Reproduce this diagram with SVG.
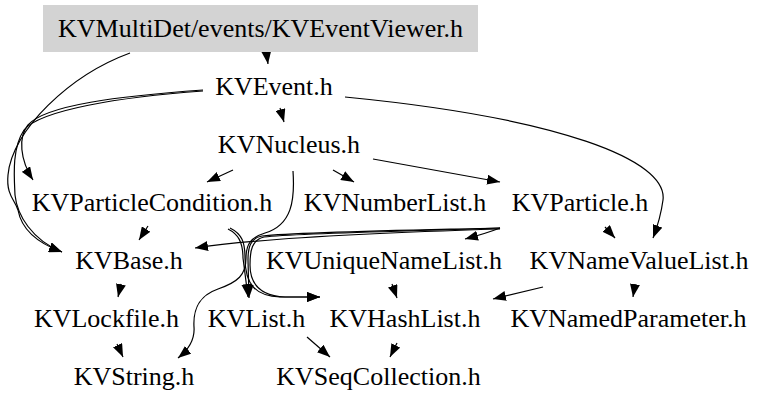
<svg xmlns="http://www.w3.org/2000/svg" width="768" height="410" viewBox="0 0 768 410">
<style>
text{font-family:'Liberation Serif',Tinos,'Times New Roman','DejaVu Serif',serif;font-size:26px;fill:#000;text-anchor:middle}
.e{fill:none;stroke:#000;stroke-width:1.2;marker-end:url(#ah)}
</style>
<defs>
<marker id="ah" viewBox="0 0 13 10" refX="13" refY="5" markerWidth="13" markerHeight="10" markerUnits="userSpaceOnUse" orient="auto">
<path d="M0,0 L13,5 L0,10 z" fill="#000"/>
</marker>
</defs>
<rect width="768" height="410" fill="#fff"/>
<g id="connectors">
<path class="e" d="M266,49 L268,64"/>
<path class="e" d="M130,53 C70,75 12,130 8,175 C6,195 15,200 18,210 C22,232 40,244 62,252"/>
<path class="e" d="M203,90 C120,96 45,105 28,125 C18,137 20,160 33,180"/>
<path class="e" d="M203,91 C120,97 40,110 24,130 C12,148 14,175 15,195 C17,215 32,240 62,252"/>
<path class="e" d="M280,108 L284,122"/>
<path class="e" d="M345,97 C560,118 668,160 663,200 C661,215 658,225 653,238"/>
<path class="e" d="M233,170 L207,182"/>
<path class="e" d="M333,170 L354,182"/>
<path class="e" d="M373,159 L500,182"/>
<path class="e" d="M293,171 C295,200 292,225 265,233 C252,237 246,243 246,258 C246,275 238,282 218,289 C198,296 193,310 194,327 C195,340 188,350 178,358"/>
<path class="e" d="M148,226 L139,240"/>
<path class="e" d="M228,229 C238,234 243,242 243,258 L248,297"/>
<path class="e" d="M230,228 C242,234 245,242 245,258 C245,285 256,296 280,297 L320,297"/>
<path class="e" d="M500,228 C420,230 300,232 262,236 C250,238 248,248 248,260 L249,298"/>
<path class="e" d="M500,228 C420,231 300,233 264,237 C252,240 250,250 250,265 C250,285 262,296 285,297 L320,297"/>
<path class="e" d="M500,229 C400,232 260,238 195,248"/>
<path class="e" d="M500,228 C490,232 480,235 465,239"/>
<path class="e" d="M605,227 L615,238"/>
<path class="e" d="M121,284 L118,297"/>
<path class="e" d="M117,344 L123,357"/>
<path class="e" d="M307,337 L330,357"/>
<path class="e" d="M397,343 L390,357"/>
<path class="e" d="M392,284 L397,298"/>
<path class="e" d="M543,287 L493,299"/>
<path class="e" d="M635,284 L633,297"/>
</g>
<g id="node-KVEventViewer"><rect x="43" y="5" width="435" height="47" fill="#d3d3d3"/><text x="260.5" y="37">KVMultiDet/events/KVEventViewer.h</text></g>
<g id="node-KVEvent"><text x="274" y="95">KVEvent.h</text></g>
<g id="node-KVNucleus"><text x="289" y="153">KVNucleus.h</text></g>
<g id="node-KVParticleCondition"><text x="152" y="211">KVParticleCondition.h</text></g>
<g id="node-KVNumberList"><text x="395" y="211">KVNumberList.h</text></g>
<g id="node-KVParticle"><text x="580" y="211">KVParticle.h</text></g>
<g id="node-KVBase"><text x="129" y="269">KVBase.h</text></g>
<g id="node-KVUniqueNameList"><text x="384" y="269">KVUniqueNameList.h</text></g>
<g id="node-KVNameValueList"><text x="639" y="269">KVNameValueList.h</text></g>
<g id="node-KVLockfile"><text x="106.5" y="327">KVLockfile.h</text></g>
<g id="node-KVList"><text x="256.5" y="327">KVList.h</text></g>
<g id="node-KVHashList"><text x="405" y="327">KVHashList.h</text></g>
<g id="node-KVNamedParameter"><text x="628.5" y="327">KVNamedParameter.h</text></g>
<g id="node-KVString"><text x="134" y="385">KVString.h</text></g>
<g id="node-KVSeqCollection"><text x="378.5" y="385">KVSeqCollection.h</text></g>
</svg>
